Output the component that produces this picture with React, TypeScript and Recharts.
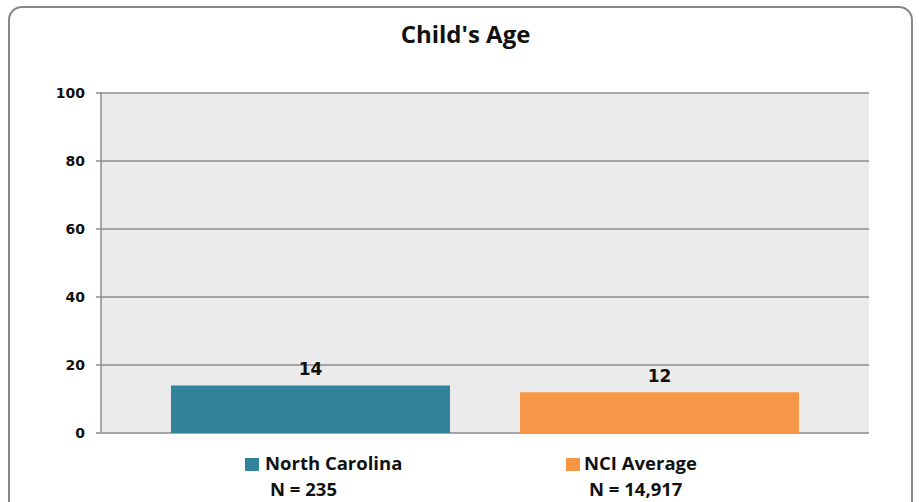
import React from 'react'
import { BarChart, Bar, XAxis, YAxis, CartesianGrid, LabelList, Legend } from 'recharts'

const categories = ["Child's Age"]
const seriesNames = ['North Carolina', 'NCI Average']
const seriesN = ['N = 235', 'N = 14,917']
const ncValues = [14]
const nciValues = [12]
const yTicks = [0, 20, 40, 60, 80, 100]

const colors = ['#31849b', '#f79646']

const data = categories.map((c, i) => ({ category: c, nc: ncValues[i], nci: nciValues[i] }))

const font = '"Open Sans", "DejaVu Sans", sans-serif'

function ChartLegend() {
  const items = [
    { sq: 245, text: 265, sub: 270 },
    { sq: 566, text: 584, sub: 589 },
  ]
  return (
    <div style={{ position: 'absolute', left: 0, top: 0, width: 919, height: 502, pointerEvents: 'none' }}>
      {items.map((it, i) => (
        <React.Fragment key={seriesNames[i]}>
          <div style={{ position: 'absolute', left: it.sq, top: 458, width: 14, height: 13, background: colors[i] }} />
          <div style={{ position: 'absolute', left: it.text, top: 451, fontFamily: font, fontWeight: 700, fontSize: 18.5, color: '#111', whiteSpace: 'nowrap', lineHeight: '24px' }}>
            {seriesNames[i]}
          </div>
          <div style={{ position: 'absolute', left: it.sub, top: 477, fontFamily: font, fontWeight: 700, fontSize: 18.5, color: '#111', whiteSpace: 'nowrap', lineHeight: '24px' }}>
            {seriesN[i]}
          </div>
        </React.Fragment>
      ))}
    </div>
  )
}

export default function App() {
  return (
    <div style={{ position: 'absolute', left: 0, top: 0, width: 919, height: 502, overflow: 'hidden', background: '#fff' }}>
      <div style={{ position: 'absolute', left: 8, top: 6, width: 901, height: 520, border: '2.5px solid #878787', borderRadius: 14 }} />
      <div style={{ position: 'absolute', left: 0, top: 19, width: 931, textAlign: 'center', fontFamily: font, fontWeight: 700, fontSize: 24, color: '#111', lineHeight: '30px' }}>
        Child's Age
      </div>
      <div style={{ position: 'absolute', left: 0, top: 0 }}>
        <BarChart width={919} height={502} data={data} margin={{ top: 93, right: 50, bottom: 69, left: 0 }} barSize={279} barGap={70}>
          <CartesianGrid vertical={false} fill="#ebebeb" stroke="#8c8c8c" strokeWidth={1.5} />
          <XAxis dataKey="category" hide />
          <YAxis
            width={101}
            domain={[0, 100]}
            ticks={yTicks}
            interval={0}
            tickSize={5}
            tickMargin={11}
            axisLine={{ stroke: '#8c8c8c', strokeWidth: 1.5 }}
            tickLine={{ stroke: '#8c8c8c', strokeWidth: 1.5 }}
            tick={{ fill: '#111', fontSize: 14, fontWeight: 700, fontFamily: '"DejaVu Sans", sans-serif' }}
          />
          <Bar dataKey="nc" name={seriesNames[0]} fill={colors[0]} isAnimationActive={false}>
            <LabelList dataKey="nc" position="top" offset={10} style={{ fill: '#111', fontSize: 17, fontWeight: 700, fontFamily: '"DejaVu Sans", sans-serif' }} />
          </Bar>
          <Bar dataKey="nci" name={seriesNames[1]} fill={colors[1]} isAnimationActive={false}>
            <LabelList dataKey="nci" position="top" offset={10} style={{ fill: '#111', fontSize: 17, fontWeight: 700, fontFamily: '"DejaVu Sans", sans-serif' }} />
          </Bar>
          <Legend content={() => null} />
        </BarChart>
      </div>
      <ChartLegend />
    </div>
  )
}
